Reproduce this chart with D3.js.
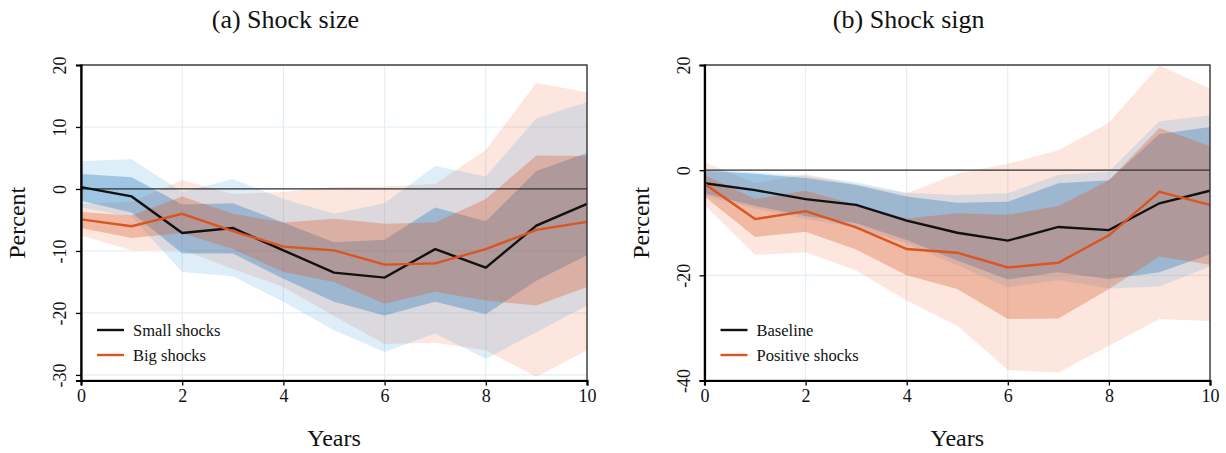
<!DOCTYPE html>
<html>
<head>
<meta charset="utf-8">
<script src="https://cdn.jsdelivr.net/npm/d3@7/dist/d3.min.js"></script>
<style>
  html, body { margin: 0; padding: 0; background: #fff; }
  svg { display: block; }
  text { font-family: "Liberation Serif", "DejaVu Serif", serif; fill: #111; }
</style>
</head>
<body>
<svg id="chart" width="1226" height="453"></svg>
<script>
// ---------- data ----------
const years = [0, 1, 2, 3, 4, 5, 6, 7, 8, 9, 10];
const xTicks = [0, 2, 4, 6, 8, 10];

// Panel (a) Shock size
const yTicksA = [20, 10, 0, -10, -20, -30];
const smallMean = [0.3, -1.2, -7.1, -6.3, -9.9, -13.5, -14.3, -9.7, -12.7, -5.9, -2.4];
const smallHi68 = [2.4, 1.9, -2.5, -2.3, -5.4, -8.6, -8.2, -3.0, -5.2, 2.9, 5.8];
const smallLo68 = [-1.9, -3.8, -10.4, -10.4, -14.5, -18.2, -20.4, -18.2, -20.2, -14.8, -10.7];
const smallHi90 = [4.5, 4.8, -0.5, 1.6, -1.6, -4.0, -2.3, 3.7, 2.0, 11.4, 14.0];
const smallLo90 = [-3.0, -4.5, -13.4, -14.1, -18.2, -22.8, -26.3, -23.3, -27.4, -23.1, -18.8];

const bigMean = [-4.9, -6.0, -4.0, -6.8, -9.3, -9.9, -12.2, -12.0, -9.7, -6.6, -5.3];
const bigHi68 = [-3.7, -4.3, -1.2, -4.0, -5.4, -4.8, -5.6, -5.4, -1.6, 5.4, 5.3];
const bigLo68 = [-6.3, -7.9, -7.1, -9.7, -13.4, -15.0, -18.5, -16.6, -18.0, -18.8, -15.8];
const bigHi90 = [-2.4, -2.1, 1.4, -0.8, -0.5, 0.3, 0.4, 0.8, 6.3, 17.1, 15.6];
const bigLo90 = [-7.5, -9.9, -9.8, -12.9, -15.8, -20.5, -25.0, -24.8, -26.0, -30.3, -26.0];

// Panel (b) Shock sign
const yTicksB = [20, 0, -20, -40];
const baseMean = [-2.5, -3.8, -5.5, -6.6, -9.6, -11.9, -13.4, -10.8, -11.4, -6.3, -3.9];
const baseHi68 = [-0.1, -0.7, -1.5, -2.8, -5.0, -6.2, -6.0, -2.5, -1.9, 6.9, 8.2];
const baseLo68 = [-4.4, -6.8, -8.7, -10.1, -13.3, -17.2, -20.8, -19.4, -20.7, -19.4, -16.0];
const baseHi90 = [0.1, -0.4, -1.1, -2.3, -4.3, -4.7, -4.4, -0.9, -0.3, 9.3, 10.4];
const baseLo90 = [-4.9, -7.3, -9.3, -10.9, -14.0, -18.1, -22.3, -20.9, -22.5, -22.1, -18.3];

const posMean = [-2.6, -9.3, -7.8, -10.9, -15.0, -15.7, -18.5, -17.6, -12.4, -4.1, -6.6];
const posHi68 = [-0.9, -5.5, -3.9, -6.6, -9.2, -8.2, -8.5, -6.8, -1.9, 8.0, 4.6];
const posLo68 = [-5.0, -12.7, -11.7, -15.1, -20.0, -22.6, -28.3, -28.2, -22.6, -16.4, -18.0];
const posHi90 = [1.5, -2.5, -0.8, -2.7, -4.4, -0.7, 1.2, 3.8, 9.0, 19.9, 15.5];
const posLo90 = [-6.6, -16.1, -15.6, -19.1, -24.8, -29.6, -38.0, -38.5, -33.4, -28.3, -28.7];

const panels = [
  {
    title: "(a) Shock size", x0: 81, x1: 587, yDomain: [-30.9, 20], yTicks: yTicksA,
    s1: { name: "Small shocks", mean: smallMean, lo68: smallLo68, hi68: smallHi68, lo90: smallLo90, hi90: smallHi90 },
    s2: { name: "Big shocks", mean: bigMean, lo68: bigLo68, hi68: bigHi68, lo90: bigLo90, hi90: bigHi90 }
  },
  {
    title: "(b) Shock sign", x0: 704.5, x1: 1210, yDomain: [-40, 20], yTicks: yTicksB,
    s1: { name: "Baseline", mean: baseMean, lo68: baseLo68, hi68: baseHi68, lo90: baseLo90, hi90: baseHi90 },
    s2: { name: "Positive shocks", mean: posMean, lo68: posLo68, hi68: posHi68, lo90: posLo90, hi90: posHi90 }
  }
];

// ---------- drawing ----------
const svg = d3.select("#chart");
const plotTop = 65, plotBottom = 380.5;
const blackC = "#111111", orangeC = "#dc5420";

panels.forEach((p, i) => {
  const x = d3.scaleLinear().domain([0, 10]).range([p.x0, p.x1]);
  const y = d3.scaleLinear().domain(p.yDomain).range([plotBottom, plotTop]);
  const g = svg.append("g");
  const cx = (p.x0 + p.x1) / 2;

  const clipId = "clip" + i;
  svg.append("clipPath").attr("id", clipId)
    .append("rect").attr("x", p.x0).attr("y", plotTop).attr("width", p.x1 - p.x0).attr("height", plotBottom - plotTop);

  // gridlines
  g.selectAll(".gx").data(xTicks.slice(1, -1)).enter().append("line")
    .attr("x1", d => x(d)).attr("x2", d => x(d)).attr("y1", plotTop).attr("y2", plotBottom)
    .attr("stroke", "#e3eef2").attr("stroke-width", 1.2);
  g.selectAll(".gy").data(p.yTicks).enter().append("line")
    .attr("x1", p.x0).attr("x2", p.x1).attr("y1", d => y(d)).attr("y2", d => y(d))
    .attr("stroke", "#e3eef2").attr("stroke-width", 1.2);

  const plot = g.append("g").attr("clip-path", `url(#${clipId})`);
  const area = (lo, hi) => d3.area().x((d, k) => x(years[k])).y0((d, k) => y(lo[k])).y1((d, k) => y(hi[k]))(years);
  const line = arr => d3.line().x((d, k) => x(years[k])).y((d, k) => y(arr[k]))(years);

  plot.append("path").attr("d", area(p.s2.lo90, p.s2.hi90)).attr("fill", "rgb(240,130,90)").attr("fill-opacity", 0.2);
  plot.append("path").attr("d", area(p.s1.lo90, p.s1.hi90)).attr("fill", "rgb(70,160,220)").attr("fill-opacity", 0.18);
  plot.append("path").attr("d", area(p.s1.lo68, p.s1.hi68)).attr("fill", "rgb(40,120,180)").attr("fill-opacity", 0.35);
  plot.append("path").attr("d", area(p.s2.lo68, p.s2.hi68)).attr("fill", "rgb(215,95,45)").attr("fill-opacity", 0.33);

  // zero line
  plot.append("line").attr("x1", p.x0).attr("x2", p.x1).attr("y1", y(0)).attr("y2", y(0))
    .attr("stroke", "#333").attr("stroke-width", 1.2);

  plot.append("path").attr("d", line(p.s1.mean)).attr("fill", "none").attr("stroke", blackC).attr("stroke-width", 2.4).attr("stroke-linejoin", "miter");
  plot.append("path").attr("d", line(p.s2.mean)).attr("fill", "none").attr("stroke", orangeC).attr("stroke-width", 2.4).attr("stroke-linejoin", "miter");

  // frame
  g.append("rect").attr("x", p.x0).attr("y", plotTop).attr("width", p.x1 - p.x0).attr("height", plotBottom - plotTop)
    .attr("fill", "none").attr("stroke", "#333").attr("stroke-width", 1.4);

  // axes
  const xAxis = d3.axisBottom(x).tickValues(xTicks).tickSize(5).tickPadding(4).tickFormat(d3.format("d"));
  const xg = g.append("g").attr("transform", `translate(0,${plotBottom})`).call(xAxis);
  xg.select(".domain").attr("stroke", "#000").attr("stroke-width", 2.2);
  xg.selectAll(".tick line").attr("stroke", "#000").attr("stroke-width", 1.3);
  xg.selectAll(".tick text").attr("font-size", 18).attr("font-family", "Liberation Serif").attr("fill", "#111");

  const yAxis = d3.axisLeft(y).tickValues(p.yTicks).tickSize(5).tickPadding(0).tickFormat(d => String(d));
  const yg = g.append("g").attr("transform", `translate(${p.x0},0)`).call(yAxis);
  yg.select(".domain").attr("stroke", "#000").attr("stroke-width", 2.2);
  yg.selectAll(".tick line").attr("stroke", "#000").attr("stroke-width", 1.3);
  yg.selectAll(".tick text")
    .attr("font-size", 18).attr("font-family", "Liberation Serif").attr("fill", "#111")
    .attr("x", null).attr("dy", null)
    .attr("text-anchor", "middle")
    .attr("transform", "translate(-15,0) rotate(-90)");

  // title (centred over the x = 4 region, as in the reference)
  svg.append("text").attr("x", x(4) + 2).attr("y", 28).attr("text-anchor", "middle")
    .attr("font-size", 26).text(p.title);
  // axis titles
  svg.append("text").attr("x", cx).attr("y", 446).attr("text-anchor", "middle")
    .attr("font-size", 24).text("Years");
  svg.append("text").attr("transform", `translate(${p.x0 - 56},${(plotTop + plotBottom) / 2}) rotate(-90)`)
    .attr("text-anchor", "middle").attr("font-size", 24).text("Percent");

  // legend
  const lx = p.x0 + 16;
  [[p.s1.name, blackC, 330], [p.s2.name, orangeC, 355]].forEach(([name, col, ly]) => {
    svg.append("line").attr("x1", lx).attr("x2", lx + 27).attr("y1", ly).attr("y2", ly)
      .attr("stroke", col).attr("stroke-width", 2.4);
    svg.append("text").attr("x", lx + 36).attr("y", ly + 5.5).attr("font-size", 16.5).text(name);
  });
});
</script>
</body>
</html>
